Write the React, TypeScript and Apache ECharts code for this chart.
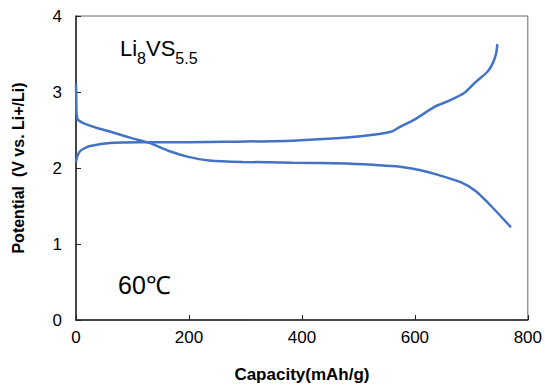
import React, { useEffect, useRef } from "react";
import * as echarts from "echarts";

const xTicks = [0, 200, 400, 600, 800];
const yTicks = [0, 1, 2, 3, 4];

const dischargeCap = [0, 0.5, 1, 3, 8, 16, 40, 60, 100, 130, 166, 197, 236, 295, 383, 480, 530, 571, 610, 641, 682, 707, 735, 770];
const dischargeV = [3.11, 2.9, 2.72, 2.64, 2.61, 2.58, 2.52, 2.48, 2.39, 2.33, 2.22, 2.15, 2.1, 2.08, 2.07, 2.06, 2.04, 2.02, 1.97, 1.91, 1.81, 1.7, 1.5, 1.22];

const chargeCap = [0, 2, 7, 15, 25, 60, 113, 200, 266, 383, 480, 530, 559, 571, 600, 636, 659, 688, 706, 729, 738, 744, 746];
const chargeV = [2.08, 2.15, 2.22, 2.26, 2.29, 2.33, 2.34, 2.34, 2.345, 2.36, 2.4, 2.44, 2.48, 2.53, 2.64, 2.81, 2.88, 2.99, 3.12, 3.27, 3.38, 3.51, 3.63];

const pair = (xs: number[], ys: number[]) => xs.map((x, i) => [x, ys[i]]);

export default function App() {
  const ref = useRef<HTMLDivElement>(null);
  useEffect(() => {
    if (!ref.current) return;
    const chart = echarts.init(ref.current, undefined, { renderer: "svg" });
    const blue = "#4472C4";
    chart.setOption({
      animation: false,
      backgroundColor: "#fff",
      grid: {
        left: 76,
        top: 16,
        right: 15,
        bottom: 67,
        show: true,
        borderColor: "#666",
        borderWidth: 1,
        backgroundColor: "transparent",
      },
      xAxis: {
        type: "value",
        min: xTicks[0],
        max: xTicks[xTicks.length - 1],
        interval: 200,
        name: "Capacity(mAh/g)",
        nameLocation: "middle",
        nameGap: 46,
        nameTextStyle: { fontFamily: "Liberation Sans", fontWeight: "bold", fontSize: 17, color: "#000" },
        axisLine: { lineStyle: { color: "#222", width: 1.5 } },
        axisTick: { inside: true, length: 5, lineStyle: { color: "#222" } },
        axisLabel: { fontFamily: "Liberation Sans", fontSize: 17, color: "#000", margin: 9 },
        splitLine: { show: false },
      },
      yAxis: {
        type: "value",
        min: yTicks[0],
        max: yTicks[yTicks.length - 1],
        interval: 1,
        name: "Potential  (V vs. Li+/Li)",
        nameLocation: "middle",
        nameGap: 50,
        nameRotate: 90,
        nameTextStyle: { fontFamily: "Liberation Sans", fontWeight: "bold", fontSize: 16, color: "#000" },
        axisLine: { show: true, lineStyle: { color: "#222", width: 1.5 } },
        axisTick: { show: true, inside: true, length: 5, lineStyle: { color: "#222" } },
        axisLabel: { fontFamily: "Liberation Sans", fontSize: 17, color: "#000", margin: 14 },
        splitLine: { show: false },
      },
      series: [
        {
          type: "line",
          name: "discharge",
          data: pair(dischargeCap, dischargeV),
          showSymbol: false,
          smooth: 0.2,
          lineStyle: { color: blue, width: 2.5 },
        },
        {
          type: "line",
          name: "charge",
          data: pair(chargeCap, chargeV),
          showSymbol: false,
          smooth: 0.2,
          lineStyle: { color: blue, width: 2.5 },
        },
      ],
      graphic: [
        {
          type: "text",
          left: 120,
          top: 37,
          style: {
            text: "{m|Li}{s|8}{m|VS}{s|5.5}",
            rich: {
              m: { fontFamily: "Liberation Sans", fontSize: 22, fill: "#000", lineHeight: 34, verticalAlign: "bottom", padding: [0, 0, 7, 0] },
              s: { fontFamily: "Liberation Sans", fontSize: 16, fill: "#000", lineHeight: 34, verticalAlign: "bottom", padding: [0, 0, 0, 0] },
            },
          },
        },
        {
          type: "text",
          left: 118,
          top: 272,
          style: { text: "60℃", fontFamily: "Liberation Sans", fontSize: 25, fill: "#000" },
        },
      ],
    });
    return () => chart.dispose();
  }, []);
  return <div ref={ref} style={{ width: 545, height: 388, position: "absolute", left: 0, top: 0 }} />;
}
